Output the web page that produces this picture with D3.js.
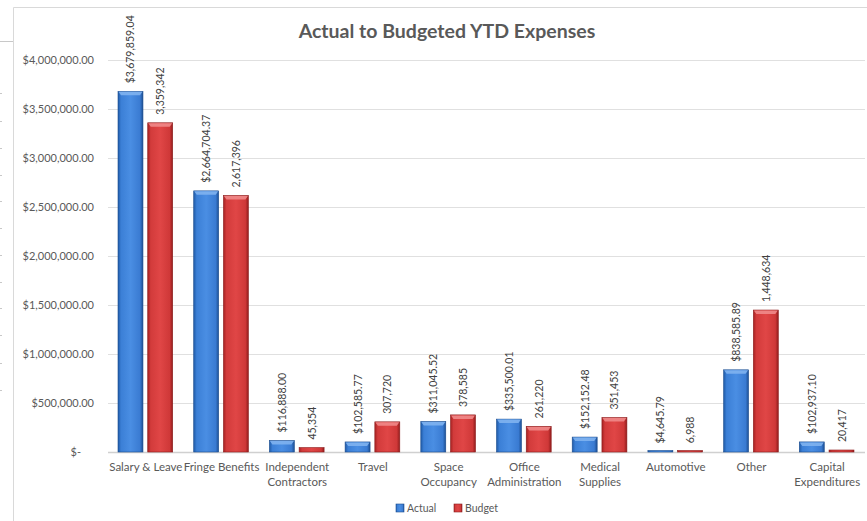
<!DOCTYPE html>
<html><head><meta charset="utf-8">
<script src="https://cdn.jsdelivr.net/npm/d3@7"></script>
<style>
body{margin:0;background:#fff;}
svg{display:block;font-family:Lato,"Open Sans",sans-serif;}
</style></head><body>
<svg id="chart" width="867" height="521"></svg>
<script>
const categories = ["Salary & Leave","Fringe Benefits","Independent Contractors","Travel","Space Occupancy","Office Administration","Medical Supplies","Automotive","Other","Capital Expenditures"];
const categoryLines = [["Salary & Leave"],["Fringe Benefits"],["Independent","Contractors"],["Travel"],["Space","Occupancy"],["Office","Administration"],["Medical","Supplies"],["Automotive"],["Other"],["Capital","Expenditures"]];
const actual = [3679859.04, 2664704.37, 116888.00, 102585.77, 311045.52, 335500.01, 152152.48, 4645.79, 838585.89, 102937.10];
const budget = [3359342, 2617396, 45354, 307720, 378585, 261220, 351453, 6988, 1448634, 20417];
const seriesNames = ["Actual","Budget"];
const yTicks = [0, 500000, 1000000, 1500000, 2000000, 2500000, 3000000, 3500000, 4000000];

const svg = d3.select("#chart");
const W = 867, H = 521;
const margin = {left:108, right:2, top:60, bottom:69};
const x = d3.scaleBand().domain(categories).range([margin.left, W - margin.right]).paddingInner(0).paddingOuter(0);
const y = d3.scaleLinear().domain([0, 4000000]).range([452, 60]);
const x1 = d3.scaleBand().domain(seriesNames).range([10, x.bandwidth()-11]).paddingInner(0.16);

// background artifacts (spreadsheet behind)
const bg = svg.append("g");
bg.append("line").attr("x1",0).attr("x2",13).attr("y1",41.5).attr("y2",41.5).attr("stroke","#c8c8c8");
[93,121,148,175,201,228,255,282,308,335,363,390].forEach(v=>{
  bg.append("line").attr("x1",0).attr("x2",2).attr("y1",v+0.5).attr("y2",v+0.5).attr("stroke","#c8c8c8");
});
// chart frame
svg.append("path").attr("d","M13.5,521 L13.5,7.5 L867,7.5").attr("fill","none").attr("stroke","#d9d9d9");

// defs gradients
const defs = svg.append("defs");
function grad(id, stops){
  const g = defs.append("linearGradient").attr("id",id).attr("x1","0").attr("x2","1").attr("y1","0").attr("y2","0");
  stops.forEach(s=>g.append("stop").attr("offset",s[0]).attr("stop-color",s[1]));
}
grad("gA",[[0,"#1f5aa6"],[0.12,"#3b7fd6"],[0.5,"#4a8ee3"],[0.88,"#3a7bd2"],[1,"#1d4f93"]]);
grad("gB",[[0,"#a52222"],[0.12,"#d23b3b"],[0.5,"#e04646"],[0.88,"#cf3838"],[1,"#911c1c"]]);
const colors = {Actual:"url(#gA)", Budget:"url(#gB)"};
const topCol = {Actual:"#7fb3f0", Budget:"#f08a8a"};
const edge = {Actual:"#1c4d8f", Budget:"#8c1c1c"};

// gridlines
const grid = svg.append("g");
yTicks.forEach(t=>{
  grid.append("line").attr("x1",108).attr("x2",865).attr("y1",Math.round(y(t))+0.5).attr("y2",Math.round(y(t))+0.5)
    .attr("stroke", t===0 ? "#d0d0d0" : "#e0e0e0").attr("stroke-width", t===0?1.5:1);
});

// y axis labels
const fmtY = v => v===0 ? "$-" : "$" + d3.format(",.2f")(v);
const yAxis = d3.axisLeft(y).tickValues(yTicks).tickFormat(fmtY).tickSize(0).tickPadding(0);
const ya = svg.append("g").attr("transform","translate(94,0)").call(yAxis);
ya.select(".domain").remove();
ya.selectAll("text").attr("fill","#595959").style("font-size","11px").style("font-family","Lato,'Open Sans',sans-serif");
ya.selectAll(".tick").filter(d=>d===0).select("text").attr("dx",-13);

// bars
const data = categories.map((c,i)=>({c, vals:[{s:"Actual",v:actual[i]},{s:"Budget",v:budget[i]}]}));
const groups = svg.append("g").selectAll("g").data(data).join("g").attr("transform",d=>`translate(${x(d.c)},0)`);
groups.each(function(d){
  const g = d3.select(this);
  d.vals.forEach(o=>{
    const bx = x1(o.s), bw = x1.bandwidth();
    const top = y(o.v), h = Math.max(y(0)-top, 1.5);
    g.append("rect").attr("x",bx).attr("y",y(0)-h).attr("width",bw).attr("height",h).attr("fill",colors[o.s]).attr("stroke",edge[o.s]).attr("stroke-width",0.6);
    if (h > 6) {
      g.append("path").attr("d",`M${bx+0.5},${y(0)-h+0.5} L${bx+bw-0.5},${y(0)-h+0.5} L${bx+bw-3},${y(0)-h+4} L${bx+3},${y(0)-h+4} Z`).attr("fill",topCol[o.s]).attr("opacity",0.9);
    }
    const label = o.s==="Actual" ? "$" + d3.format(",.2f")(o.v) : d3.format(",")(o.v);
    g.append("text").attr("transform",`translate(${bx+bw/2+4},${y(o.v)-8}) rotate(-90)`)
      .attr("text-anchor","start").attr("fill","#404040").style("font-size","10.5px").text(label);
  });
});

// x labels
const xl = svg.append("g");
categories.forEach((c,i)=>{
  const cx = x(c) + x.bandwidth()/2;
  categoryLines[i].forEach((ln,j)=>{
    xl.append("text").attr("x",cx).attr("y",471 + j*15).attr("text-anchor","middle").attr("fill","#595959").style("font-size","11.5px").text(ln);
  });
});

// title
svg.append("text").attr("x",447).attr("y",38).attr("text-anchor","middle").attr("fill","#595959").style("font-size","19.5px").style("font-weight","bold").text("Actual to Budgeted YTD Expenses");

// legend
const leg = svg.append("g");
const legX = [396, 454];
seriesNames.forEach((s,i)=>{
  leg.append("rect").attr("x",legX[i]).attr("y",504).attr("width",8).attr("height",8).attr("fill",colors[s]).attr("stroke",edge[s]).attr("stroke-width",0.6);
  leg.append("text").attr("x",legX[i]+11).attr("y",512).attr("fill","#595959").style("font-size","10.5px").text(s);
});
</script>
</body></html>
